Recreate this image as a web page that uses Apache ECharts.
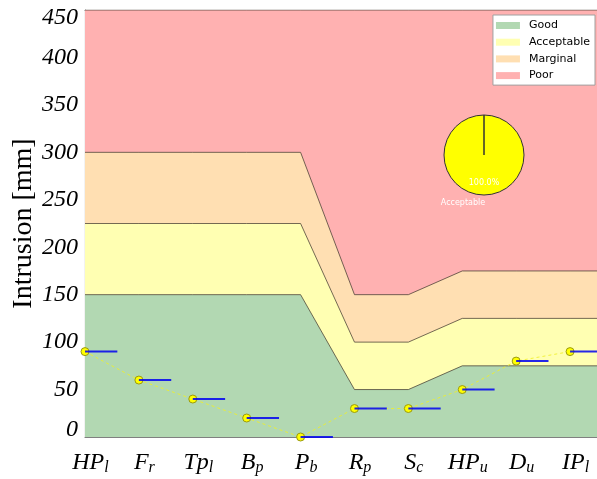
<!DOCTYPE html>
<html>
<head>
<meta charset="utf-8">
<script src="https://cdn.jsdelivr.net/npm/echarts@6/dist/echarts.min.js"></script>
<style>
  html, body { margin: 0; padding: 0; background: #fff; }
  #chart { width: 597px; height: 479px; }
</style>
</head>
<body>
<div id="chart"></div>
<script>
// Measurement locations (main symbol + subscript)
const categories = [
  ['HP', 'l'], ['F', 'r'], ['Tp', 'l'], ['B', 'p'], ['P', 'b'],
  ['R', 'p'], ['S', 'c'], ['HP', 'u'], ['D', 'u'], ['IP', 'l']
];
// Measured intrusion per location [mm]
const intrusion = [90, 60, 40, 20, 0, 30, 30, 50, 80, 90];
// Upper limits of each rating band per location [mm]
const goodUpper = [150, 150, 150, 150, 150, 50, 50, 75, 75, 75];
const acceptableUpper = [225, 225, 225, 225, 225, 100, 100, 125, 125, 125];
const marginalUpper = [300, 300, 300, 300, 300, 150, 150, 175, 175, 175];
const poorUpper = [450, 450, 450, 450, 450, 450, 450, 450, 450, 450];
// Y axis tick values
const yTicks = [0, 50, 100, 150, 200, 250, 300, 350, 400, 450];
// Share of ratings for the pie
const ratingNames = ['Acceptable', 'Good'];
const ratingShares = [1, 0];

const bandNames = ['Good', 'Acceptable', 'Marginal', 'Poor'];
const bandColors = {
  Good: '#b2d8b2',
  Acceptable: '#ffffb2',
  Marginal: '#ffdfb2',
  Poor: '#ffb1b1'
};
const xMax = 9.5;
const serif = '"Liberation Serif", "DejaVu Serif", serif';

// band outline: one point per location, held flat to the right edge
function bandData(arr) {
  const d = arr.map((v, i) => [i, v]);
  d.push([xMax, arr[arr.length - 1]]);
  return d;
}

function bandSeries(name, arr) {
  return {
    name: name,
    type: 'line',
    data: bandData(arr),
    symbol: 'none',
    silent: true,
    lineStyle: { color: 'rgba(70,60,50,0.75)', width: 1 },
    areaStyle: { color: bandColors[name], opacity: 1, origin: 'start' },
    itemStyle: { color: bandColors[name] }
  };
}

const tickFont = { fontFamily: serif, fontStyle: 'italic', fontSize: 24, color: '#000' };

const chart = echarts.init(document.getElementById('chart'), null, { renderer: 'canvas' });

const option = {
  animation: false,
  backgroundColor: '#fff',
  grid: { left: 85, right: 0, top: 10, bottom: 42, containLabel: false, outerBoundsMode: 'none' },
  legend: {
    data: bandNames.map(n => ({ name: n, icon: 'rect' })),
    orient: 'vertical',
    right: 2,
    top: 15,
    itemWidth: 24,
    itemHeight: 7,
    itemGap: 5.7,
    padding: [5, 5, 4, 3],
    backgroundColor: '#fff',
    borderColor: '#a0a0a0',
    borderWidth: 1,
    borderRadius: 0,
    textStyle: { fontFamily: 'DejaVu Sans', fontSize: 11, color: '#000', padding: [0, 0, 0, 4] }
  },
  xAxis: [
    {
      type: 'value',
      min: 0,
      max: xMax,
      interval: 1,
      splitLine: { show: false },
      axisLine: { show: true, onZero: false, lineStyle: { color: '#808080', width: 1.2 } },
      axisTick: { show: true, inside: true, length: 3, lineStyle: { color: '#808080' } },
      axisLabel: {
        margin: 13,
        showMaxLabel: false,
        formatter: function (v) {
          if (v !== Math.round(v) || !categories[v]) return '';
          return '{m|' + categories[v][0] + '}{s|' + categories[v][1] + '}';
        },
        rich: {
          m: Object.assign({ padding: [0, 0, 0, 11] }, tickFont),
          s: { fontFamily: serif, fontStyle: 'italic', fontSize: 16, color: '#000', padding: [10, 0, 0, 0] }
        }
      }
    },
    {
      type: 'value',
      position: 'top',
      min: 0,
      max: xMax,
      interval: 1,
      splitLine: { show: false },
      axisLine: { show: true, onZero: false, lineStyle: { color: '#808080', width: 1.2 } },
      axisTick: { show: true, inside: true, length: 3, lineStyle: { color: '#808080' } },
      axisLabel: { show: false }
    }
  ],
  yAxis: {
    type: 'value',
    min: yTicks[0],
    max: yTicks[yTicks.length - 1],
    interval: yTicks[1] - yTicks[0],
    name: 'Intrusion [mm]',
    nameLocation: 'middle',
    nameGap: 47,
    nameMoveOverlap: false,
    nameTextStyle: { fontFamily: serif, fontSize: 28, color: '#000' },
    splitLine: { show: false },
    axisLine: { show: true, onZero: false, lineStyle: { color: '#808080', width: 1.2 } },
    axisTick: { show: true, inside: true, length: 3, lineStyle: { color: '#808080' } },
    axisLabel: {
      margin: 7,
      formatter: function (v) {
        // end labels sit inside the axis span
        if (v === yTicks[yTicks.length - 1]) return '{hi|' + v + '}';
        if (v === yTicks[0]) return '{lo|' + v + '}';
        return '{n|' + v + '}';
      },
      rich: {
        n: tickFont,
        hi: Object.assign({ padding: [16, 0, 0, 0] }, tickFont),
        lo: Object.assign({ padding: [0, 0, 14, 0] }, tickFont)
      }
    }
  },
  series: [
    bandSeries('Poor', poorUpper),
    bandSeries('Marginal', marginalUpper),
    bandSeries('Acceptable', acceptableUpper),
    bandSeries('Good', goodUpper),
    {
      name: 'Intrusion',
      type: 'line',
      data: intrusion.map((v, i) => [i, v]),
      symbol: 'circle',
      symbolSize: 8,
      lineStyle: { color: 'rgba(240,240,40,0.85)', width: 1, type: [3, 3] },
      itemStyle: { color: '#ffff00', borderColor: '#9a9a10', borderWidth: 1 },
      z: 3
    },
    {
      name: 'Level',
      type: 'custom',
      z: 4,
      data: intrusion.map((v, i) => [i, v, i + 0.6]),
      renderItem: function (params, api) {
        const p1 = api.coord([api.value(0), api.value(1)]);
        const p2 = api.coord([api.value(2), api.value(1)]);
        return {
          type: 'line',
          shape: { x1: p1[0], y1: p1[1], x2: p2[0], y2: p2[1] },
          style: { stroke: 'rgba(0,0,240,0.85)', lineWidth: 2 }
        };
      }
    },
    {
      name: 'Rating share',
      type: 'pie',
      center: [484, 155],
      radius: 40,
      startAngle: 90,
      clockwise: false,
      silent: true,
      data: ratingNames.map((n, i) => ({ name: n, value: ratingShares[i] })),
      itemStyle: {
        color: function (p) { return p.name === 'Acceptable' ? '#ffff00' : '#00aa00'; },
        borderColor: '#333',
        borderWidth: 1
      },
      label: {
        position: 'inside',
        color: '#fff',
        fontFamily: 'DejaVu Sans',
        fontSize: 8,
        offset: [0, 5],
        formatter: function (p) { return p.value > 0 ? p.percent.toFixed(1) + '%' : ''; }
      },
      labelLine: { show: false },
      z: 5
    },
    {
      name: 'Rating names',
      type: 'pie',
      center: [484, 155],
      radius: 40,
      startAngle: 90,
      clockwise: false,
      silent: true,
      data: ratingNames.map((n, i) => ({ name: n, value: ratingShares[i] })),
      itemStyle: { color: 'rgba(0,0,0,0)', borderWidth: 0 },
      label: {
        position: 'inside',
        color: '#fff',
        fontFamily: 'DejaVu Sans',
        fontSize: 8,
        offset: [-21, 25],
        formatter: function (p) { return p.value > 0 ? p.name : ''; }
      },
      labelLine: { show: false },
      z: 5
    }
  ]
};

chart.setOption(option);
</script>
</body>
</html>
